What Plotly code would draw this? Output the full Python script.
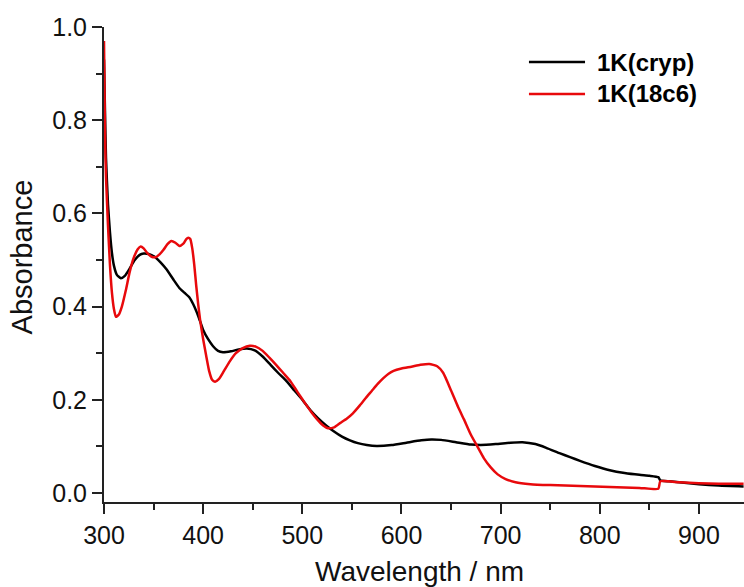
import plotly.graph_objects as go

# UV-vis absorption spectra of 1K with two different K+ sequestering agents
wl_cryp = [300, 301, 302, 304, 306, 308, 310, 313, 317, 321, 326, 331, 336, 340, 345,
           351, 357, 363, 370, 376, 381, 386, 390, 395, 400, 405, 410, 415, 420, 428,
           436, 444, 452, 460, 468, 476, 484, 492, 500, 508, 516, 524, 532, 540, 548,
           556, 565, 575, 590, 605, 620, 630, 640, 655, 670, 680, 695, 710, 722, 735,
           746, 760, 770, 780, 795, 810, 825, 840, 850, 859, 861, 870, 880, 900, 920, 945]
abs_cryp = [0.93, 0.82, 0.72, 0.62, 0.56, 0.515, 0.488, 0.468, 0.461, 0.466, 0.482, 0.500,
            0.511, 0.514, 0.513, 0.507, 0.495, 0.480, 0.458, 0.440, 0.430, 0.420, 0.405,
            0.380, 0.350, 0.330, 0.315, 0.305, 0.302, 0.304, 0.308, 0.310, 0.306, 0.293,
            0.275, 0.257, 0.240, 0.220, 0.200, 0.178, 0.160, 0.145, 0.132, 0.121, 0.113,
            0.107, 0.103, 0.101, 0.103, 0.108, 0.113, 0.115, 0.114, 0.109, 0.104, 0.103,
            0.105, 0.108, 0.109, 0.105, 0.097, 0.085, 0.077, 0.069, 0.058, 0.049, 0.043,
            0.039, 0.037, 0.034, 0.027, 0.025, 0.023, 0.019, 0.016, 0.014]

wl_18c6 = [300, 301, 302, 304, 306, 308, 310, 312, 315, 318, 322, 326, 330, 334, 337,
           340, 344, 348, 352, 356, 360, 364, 368, 372, 376, 380, 383, 385, 387, 389,
           391, 393, 395, 397, 400, 403, 406, 409, 412, 416, 421, 427, 433, 440, 447,
           453, 460, 467, 474, 481, 488, 495, 502, 509, 515, 521, 526, 532, 538, 545,
           551, 558, 564, 570, 576, 582, 587, 592, 600, 610, 619, 628, 636, 642, 650,
           657, 663, 670, 677, 683, 690, 697, 705, 715, 730, 750, 780, 810, 840, 859,
           861, 880, 900, 920, 945]
abs_18c6 = [0.97, 0.77, 0.68, 0.575, 0.49, 0.43, 0.395, 0.378, 0.383, 0.40, 0.435, 0.475,
            0.505, 0.523, 0.529, 0.525, 0.514, 0.507, 0.506, 0.512, 0.522, 0.534, 0.541,
            0.537, 0.530, 0.535, 0.545, 0.548, 0.545, 0.525, 0.49, 0.445, 0.405, 0.37,
            0.33, 0.295, 0.262, 0.243, 0.239, 0.245, 0.262, 0.283, 0.300, 0.311, 0.316,
            0.314, 0.305, 0.290, 0.274, 0.257, 0.240, 0.217, 0.195, 0.174, 0.158, 0.145,
            0.139, 0.141, 0.150, 0.160, 0.171, 0.188, 0.204, 0.219, 0.234, 0.247, 0.256,
            0.262, 0.267, 0.271, 0.275, 0.277, 0.272, 0.258, 0.220, 0.185, 0.158, 0.125,
            0.098, 0.075, 0.055, 0.040, 0.030, 0.023, 0.019, 0.017, 0.015, 0.013, 0.011,
            0.009, 0.025, 0.023, 0.021, 0.020, 0.020]

series_names = ["1K(cryp)", "1K(18c6)"]
series_colors = ["#000000", "#e8090c"]

FONT = "Arial, 'Liberation Sans', sans-serif"

fig = go.Figure()
for wl, ab, name, color in zip([wl_cryp, wl_18c6], [abs_cryp, abs_18c6],
                               series_names, series_colors):
    fig.add_trace(go.Scatter(x=wl, y=ab, mode="lines", name=name,
                             line=dict(color=color, width=2.5, shape="spline", smoothing=0.5),
                             showlegend=False))

axis_common = dict(
    showline=True, linecolor="#222222", linewidth=2,
    ticks="outside", ticklen=10, tickwidth=2, tickcolor="#222222",
    showgrid=False, zeroline=False,
    tickfont=dict(family=FONT, size=25, color="#111111"),
)
fig.update_xaxes(range=[300, 945.4], dtick=100, tick0=300,
                 minor=dict(ticks="outside", ticklen=6, tickwidth=2, dtick=50,
                            tickcolor="#222222", showgrid=False),
                 **axis_common)
fig.update_yaxes(range=[-0.0193, 1.0], dtick=0.2, tick0=0, tickformat=".1f",
                 minor=dict(ticks="outside", ticklen=6, tickwidth=2, dtick=0.1,
                            tickcolor="#222222", showgrid=False),
                 **axis_common)

# axis titles
fig.add_annotation(text="Wavelength / nm", xref="paper", yref="paper",
                   x=0.493, y=-0.147, xanchor="center", yanchor="middle", showarrow=False,
                   font=dict(family=FONT, size=28, color="#111111"))
fig.add_annotation(text="Absorbance", xref="paper", yref="paper",
                   x=-0.128, y=0.515, xanchor="center", yanchor="middle", textangle=-90,
                   showarrow=False, font=dict(family=FONT, size=29, color="#111111"))

# legend drawn as sample lines with bold labels
legend_rows = [0.9263, 0.859]
for yrow, name, color in zip(legend_rows, series_names, series_colors):
    fig.add_shape(type="line", xref="paper", yref="paper", x0=0.664, x1=0.7516,
                  y0=yrow, y1=yrow, line=dict(color=color, width=2.5))
    fig.add_annotation(text="<b>%s</b>" % name, xref="paper", yref="paper",
                       x=0.767, y=yrow, xanchor="left", yanchor="middle", showarrow=False,
                       font=dict(family=FONT, size=24, color="#000000"))

fig.update_layout(
    width=744, height=587,
    margin=dict(l=104, r=0, t=27, b=85),
    plot_bgcolor="white", paper_bgcolor="white",
)

fig.write_html("out.html")
